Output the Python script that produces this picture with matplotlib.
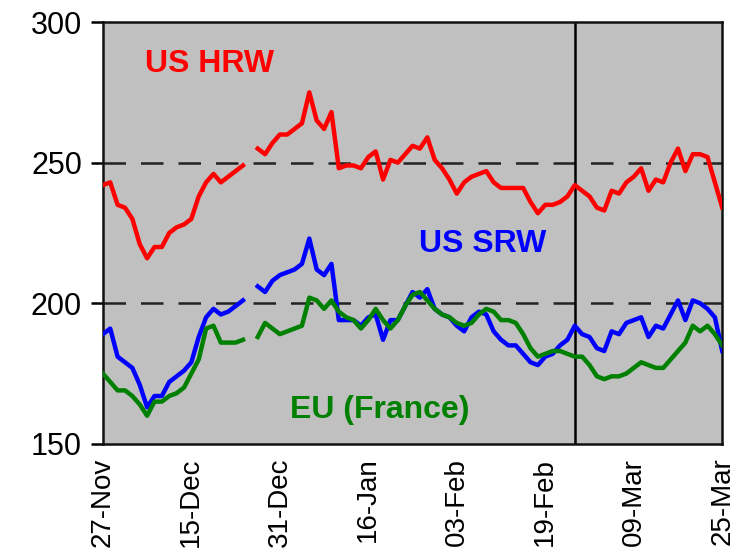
import matplotlib.pyplot as plt
import numpy as np

# daily wheat export prices, $/t (one trading day per point, gap over the holidays)
nan = np.nan
us_hrw = [242, 243, 235, 234, 230, 221, 216, 220, 220, 225, 227, 228, 230, 238, 243,
          246, 243, 245, 247, 249, nan, 255, 253, 257, 260, 260, 262, 264, 275, 265,
          262, 268, 248, 249, 249, 248, 252, 254, 244, 251, 250, 253, 256, 255, 259,
          251, 248, 244, 239, 243, 245, 246, 247, 243, 241, 241, 241, 241, 236, 232,
          235, 235, 236, 238, 242, 240, 238, 234, 233, 240, 239, 243, 245, 248, 240,
          244, 243, 250, 255, 247, 253, 253, 252, 243, 234]
us_srw = [189, 191, 181, 179, 177, 171, 163, 167, 167, 172, 174, 176, 179, 188, 195,
          198, 196, 197, 199, 201, nan, 206, 204, 208, 210, 211, 212, 214, 223, 212,
          210, 214, 194, 194, 194, 192, 195, 196, 187, 194, 194, 199, 204, 202, 205,
          198, 196, 195, 192, 190, 195, 197, 196, 190, 187, 185, 185, 182, 179, 178,
          181, 182, 185, 187, 192, 189, 188, 184, 183, 190, 189, 193, 194, 195, 188,
          192, 191, 196, 201, 194, 201, 200, 198, 195, 183]
eu_france = [175, 172, 169, 169, 167, 164, 160, 165, 165, 167, 168, 170, 175, 180, 191,
             192, 186, 186, 186, 187, nan, 188, 193, 191, 189, 190, 191, 192, 202, 201,
             198, 201, 197, 195, 194, 191, 194, 198, 194, 191, 194, 199, 203, 204, 201,
             198, 196, 195, 193, 192, 193, 196, 198, 197, 194, 194, 193, 189, 184, 181,
             182, 183, 183, 182, 181, 181, 178, 174, 173, 174, 174, 175, 177, 179, 178,
             177, 177, 180, 183, 186, 192, 190, 192, 189, 185]
date_labels = ['27-Nov', '15-Dec', '31-Dec', '16-Jan', '03-Feb', '19-Feb', '09-Mar', '25-Mar']
label_every = 12
marker_day = 64

x = np.arange(len(us_hrw))

plt.rcParams['font.family'] = ['Liberation Sans', 'DejaVu Sans']
fig = plt.figure(figsize=(7.4, 5.52), dpi=100)
ax = fig.add_axes([0.139, 0.196, 0.837, 0.764])
ax.set_facecolor('#c0c0c0')

for level in [200, 250]:
    ax.axhline(level, color='#222222', lw=1.8, dashes=(9, 6), zorder=1)
ax.axvline(marker_day, color='black', lw=1.8, zorder=1)

ax.plot(x, us_hrw, color='#ff0000', lw=3.2, zorder=3)
ax.plot(x, us_srw, color='#0000ff', lw=3.2, zorder=3)
ax.plot(x, eu_france, color='#008000', lw=3.2, zorder=4)

ax.text(14.5, 285, 'US HRW', color='#ff0000', fontsize=23, fontweight='bold', ha='center', va='center')
ax.text(51.5, 221, 'US SRW', color='#0000ff', fontsize=23, fontweight='bold', ha='center', va='center')
ax.text(37.5, 162, 'EU (France)', color='#008000', fontsize=23, fontweight='bold', ha='center', va='center')

ax.set_xlim(0, len(us_hrw) - 1)
ax.set_ylim(150, 300)
ax.set_yticks([150, 200, 250, 300])
ax.set_xticks(x[::label_every])
ax.set_xticklabels(date_labels, rotation=90, fontsize=20)
ax.tick_params(axis='x', length=0, pad=10)
ax.tick_params(axis='y', length=9, width=1.8, labelsize=22, pad=6)
for s in ax.spines.values():
    s.set_linewidth(1.8)
    s.set_color('#111111')

plt.savefig('out.png')
